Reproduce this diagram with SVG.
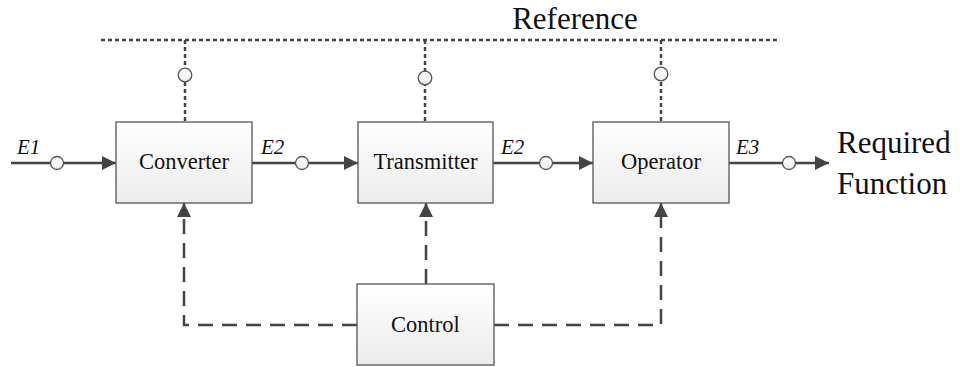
<svg xmlns="http://www.w3.org/2000/svg" width="960" height="367" viewBox="0 0 960 367">
<defs>
<linearGradient id="boxfill" x1="0" y1="0" x2="0" y2="1">
<stop offset="0" stop-color="#ffffff"/>
<stop offset="1" stop-color="#ececec"/>
</linearGradient>
<marker id="arr" viewBox="0 0 14 14" refX="14" refY="7" markerWidth="14" markerHeight="14" markerUnits="userSpaceOnUse" orient="auto">
<path d="M0,0 L14,7 L0,14 Z" fill="#444"/>
</marker>
<style>
text{font-family:"Liberation Serif","Times New Roman",serif;fill:#111}
.box{fill:url(#boxfill);stroke:#555;stroke-width:1.3}
.lbl{font-size:22.5px;text-anchor:middle}
.e{font-size:21px;font-style:italic}
.big{font-size:31px}
.flow{stroke:#444;stroke-width:2.5;fill:none}
.ref{stroke:#444;stroke-width:2.5;stroke-dasharray:4,3;fill:none}
.ctl{stroke:#444;stroke-width:2.5;stroke-dasharray:15,9;fill:none}
.dot{fill:url(#boxfill);stroke:#555;stroke-width:1.3}
</style>
</defs>
<g id="connectors">
<line class="ref" x1="101" y1="40" x2="780" y2="40"/>
<line class="ref" x1="185" y1="40" x2="185" y2="122"/>
<line class="ref" x1="425" y1="40" x2="425" y2="122"/>
<line class="ref" x1="661" y1="40" x2="661" y2="122"/>
<circle class="dot" cx="185" cy="75" r="6.8"/>
<circle class="dot" cx="425" cy="78" r="6.8"/>
<circle class="dot" cx="661" cy="74" r="6.8"/>
<line class="flow" x1="11" y1="163" x2="116" y2="163" marker-end="url(#arr)"/>
<line class="flow" x1="252" y1="163" x2="358" y2="163" marker-end="url(#arr)"/>
<line class="flow" x1="493" y1="163" x2="593" y2="163" marker-end="url(#arr)"/>
<line class="flow" x1="729" y1="163" x2="829" y2="163" marker-end="url(#arr)"/>
<circle class="dot" cx="57" cy="163" r="6.5"/>
<circle class="dot" cx="302" cy="163" r="6.5"/>
<circle class="dot" cx="546" cy="163" r="6.5"/>
<circle class="dot" cx="789" cy="163" r="6.5"/>
<path class="ctl" d="M357,325 H184 V217"/>
<path class="ctl" d="M426,284 V217"/>
<path class="ctl" d="M494,325 H661 V217"/>
<line x1="184" y1="217" x2="184" y2="203" stroke="#444" stroke-width="2.5" marker-end="url(#arr)"/>
<line x1="426" y1="217" x2="426" y2="203" stroke="#444" stroke-width="2.5" marker-end="url(#arr)"/>
<line x1="661" y1="217" x2="661" y2="203" stroke="#444" stroke-width="2.5" marker-end="url(#arr)"/>
</g>
<g id="converter">
<rect class="box" x="116" y="122" width="136" height="81"/>
<text class="lbl" x="184" y="169" font-family="Liberation Serif, serif">Converter</text>
</g>
<g id="transmitter">
<rect class="box" x="358" y="122" width="135" height="81"/>
<text class="lbl" x="425.5" y="169" font-family="Liberation Serif, serif">Transmitter</text>
</g>
<g id="operator">
<rect class="box" x="593" y="122" width="136" height="81"/>
<text class="lbl" x="661" y="169" font-family="Liberation Serif, serif">Operator</text>
</g>
<g id="control">
<rect class="box" x="357" y="284" width="137" height="81"/>
<text class="lbl" x="425.5" y="332" font-family="Liberation Serif, serif">Control</text>
</g>
<g id="labels">
<text class="big" x="575" y="29" text-anchor="middle" font-family="Liberation Serif, serif">Reference</text>
<text class="e" x="17" y="154" font-family="Liberation Serif, serif">E1</text>
<text class="e" x="261" y="154" font-family="Liberation Serif, serif">E2</text>
<text class="e" x="501" y="154" font-family="Liberation Serif, serif">E2</text>
<text class="e" x="736" y="154" font-family="Liberation Serif, serif">E3</text>
<text class="big" x="837" y="153" font-family="Liberation Serif, serif">Required</text>
<text class="big" x="837" y="194" font-family="Liberation Serif, serif">Function</text>
</g>
</svg>
